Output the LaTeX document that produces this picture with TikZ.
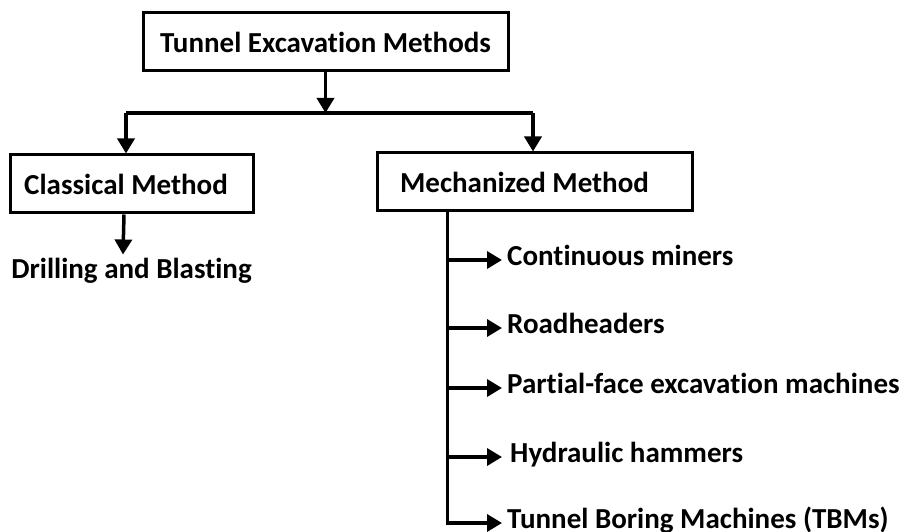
\documentclass[tikz,border=0pt]{standalone}
\usepackage{fontspec}
\setmainfont{Carlito}[Ligatures={NoCommon,NoRare}]
\usepackage{tikz}
\usetikzlibrary{arrows,arrows.meta,positioning}
\tikzstyle{arrow} = [line width=3.5pt,-{Triangle[width=17pt,length=15pt]}]
\tikzstyle{trunkline} = [line width=3.5pt]
\tikzstyle{methodbox} = [rectangle, draw, line width=3pt, minimum height=58pt, text centered, font=\fontsize{29}{34}\selectfont\bfseries]
\tikzstyle{itemtext} = [anchor=west, inner xsep=5pt, text height=19pt, text depth=8pt, font=\fontsize{29}{34}\selectfont\bfseries]

\begin{document}
\begin{tikzpicture}[x=1pt,y=-1pt]
\useasboundingbox (0,0) rectangle (903,532);
\node (top) [methodbox, minimum width=365pt] at (325.5,42) {Tunnel Excavation Methods};
\node (classical) [methodbox, minimum width=243pt] at (131.5,184) {Classical Method\kern11pt};
\node (mech) [methodbox, minimum width=315pt] at (534.5,182) {Mechanized Method\kern20pt};

\coordinate (splitl) at (126,113);
\coordinate (splitr) at (533,113);
\draw[arrow] (top.south) -- (top.south |- splitl);
\draw[trunkline] (splitl) -- (splitr);
\draw[arrow] (splitl) -- (splitl |- classical.north);
\draw[arrow] (splitr) -- (splitr |- mech.north);

\node (drill) [itemtext, anchor=north, inner ysep=5pt, text depth=2pt, below=40pt of classical] {Drilling and Blasting};
\draw[arrow] ([xshift=-7.5pt]classical.south) -- ([xshift=-8.5pt]drill.north);

\node (cont) [itemtext] at (502,260) {Continuous miners};
\node (road) [itemtext] at (502,328) {Roadheaders};
\node (partial) [itemtext] at (502,388) {Partial-face excavation machines};
\node (hyd) [itemtext, inner xsep=8pt] at (502,457) {Hydraulic hammers};
\node (tbm) [itemtext] at (502,523) {Tunnel Boring Machines (TBMs)};

\coordinate (trunk) at ([xshift=72pt]mech.south west);
\draw[arrow] (trunk) |- (tbm.west);
\draw[arrow] (trunk |- cont.west) -- (cont.west);
\draw[arrow] (trunk |- road.west) -- (road.west);
\draw[arrow] (trunk |- partial.west) -- (partial.west);
\draw[arrow] (trunk |- hyd.west) -- (hyd.west);
\end{tikzpicture}
\end{document}
